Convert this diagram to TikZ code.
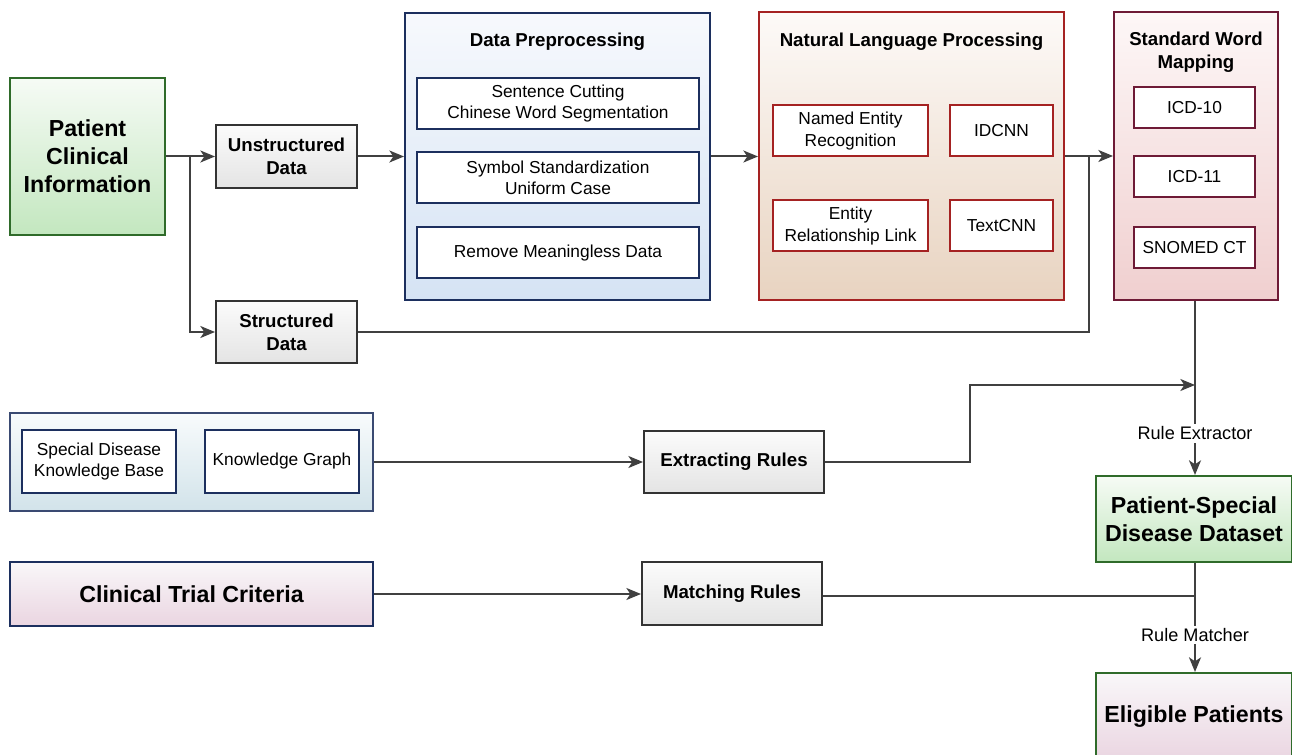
\documentclass[tikz,border=0pt]{standalone}
\usepackage{fontspec}
\setmainfont{Liberation Sans}
\usetikzlibrary{arrows.meta}
\definecolor{grnB}{HTML}{2F6B2A}
\definecolor{grnT}{HTML}{F6FBF5}
\definecolor{grnD}{HTML}{C3E7BF}
\definecolor{gryB}{HTML}{333333}
\definecolor{gryT}{HTML}{FBFBFB}
\definecolor{gryD}{HTML}{E4E4E4}
\definecolor{bluB}{HTML}{1C2F5E}
\definecolor{bluT}{HTML}{F7F9FD}
\definecolor{bluD}{HTML}{D5E3F4}
\definecolor{redB}{HTML}{A52222}
\definecolor{redT}{HTML}{FDFAF8}
\definecolor{redD}{HTML}{E8D3C0}
\definecolor{marB}{HTML}{6E1A36}
\definecolor{marT}{HTML}{FDF7F7}
\definecolor{marD}{HTML}{F0CFCF}
\definecolor{kbB}{HTML}{3A4A72}
\definecolor{kbT}{HTML}{F8FBFC}
\definecolor{kbD}{HTML}{D2E3EA}
\definecolor{pkT}{HTML}{F9F7F9}
\definecolor{pkD}{HTML}{EAD5E1}
\definecolor{lnC}{HTML}{404040}
\begin{document}
\begin{tikzpicture}[x=0.75pt,y=-0.75pt,
  sz/.style 2 args={minimum width=#1*0.75pt, minimum height=#2*0.75pt},
  base/.style={rectangle, inner sep=0pt, align=center, line width=1.5pt, text=black},
  bigf/.style={font=\bfseries\fontsize{17.4}{21}\selectfont},
  medf/.style={font=\bfseries\fontsize{14}{17}\selectfont},
  nrmf/.style={font=\fontsize{13}{16}\selectfont},
  grnbox/.style={base, draw=grnB, top color=grnT, bottom color=grnD},
  grybox/.style={base, draw=gryB, top color=gryT, bottom color=gryD, medf},
  inbox/.style={base, fill=white, nrmf},
  arr/.style={draw=lnC, line width=1.5pt, -{Stealth[length=11pt,width=9pt,inset=3pt]}},
  ln/.style={draw=lnC, line width=1.5pt},
  lbl/.style={fill=white, inner sep=2pt, font=\fontsize{13.6}{16}\selectfont}]
\path[use as bounding box] (0,0) rectangle (1292,755);

% left column
\node[grnbox, bigf, sz={155}{157}] (pci) at (87.5,156.5) {Patient\\Clinical\\Information};
\node[grybox, sz={141}{63}] (uns) at (286.5,156.5) {Unstructured\\Data};
\node[grybox, sz={141}{62}] (str) at (286.5,332) {Structured\\Data};

% data preprocessing
\node[base, draw=bluB, top color=bluT, bottom color=bluD, sz={305}{287}] (dp) at (557.5,156.5) {};
\node[medf] (dpt) at (557.5,42) {Data Preprocessing};
\node[inbox, draw=bluB, sz={282}{51}] (dp1) at (558,103.5) {Sentence Cutting\\Chinese Word Segmentation};
\node[inbox, draw=bluB, sz={282}{51}] (dp2) at (558,178) {Symbol Standardization\\Uniform Case};
\node[inbox, draw=bluB, sz={282}{51}] (dp3) at (558,253) {Remove Meaningless Data};

% NLP
\node[base, draw=redB, top color=redT, bottom color=redD, sz={305}{288}] (nlp) at (911.5,156) {};
\node[medf] (nlpt) at (911.5,42) {Natural Language Processing};
\node[inbox, draw=redB, sz={155}{51}] (ner) at (850.5,131) {Named Entity\\Recognition};
\node[inbox, draw=redB, sz={103}{51}] (idc) at (1001.5,131) {IDCNN};
\node[inbox, draw=redB, sz={155}{51}] (erl) at (850.5,226) {Entity\\Relationship Link};
\node[inbox, draw=redB, sz={103}{51}] (tcn) at (1001.5,226) {TextCNN};

% standard word mapping
\node[base, draw=marB, top color=marT, bottom color=marD, sz={164}{288}] (swm) at (1196,156) {};
\node[medf, align=center] (swmt) at (1196,52) {Standard Word\\Mapping};
\node[inbox, draw=marB, sz={121}{41}] (i10) at (1194.5,107.5) {ICD-10};
\node[inbox, draw=marB, sz={121}{41}] (i11) at (1194.5,177) {ICD-11};
\node[inbox, draw=marB, sz={121}{41}] (sno) at (1194.5,247.5) {SNOMED CT};

% knowledge base group
\node[base, draw=kbB, top color=kbT, bottom color=kbD, sz={363}{98}] (kbg) at (191.5,462) {};
\node[inbox, draw=bluB, sz={154}{63}] (sdkb) at (99,461.5) {Special Disease\\Knowledge Base};
\node[inbox, draw=bluB, sz={154}{63}] (kg) at (282,461.5) {Knowledge Graph};

\node[grybox, sz={180}{62}] (ext) at (734,462) {Extracting Rules};
\node[base, draw=bluB, top color=pkT, bottom color=pkD, bigf, sz={363}{64}] (ctc) at (191.5,594) {Clinical Trial Criteria};
\node[grybox, sz={180}{63}] (mat) at (732,593.5) {Matching Rules};

\node[grnbox, bigf, sz={196}{86}] (psd) at (1194,519) {Patient-Special\\Disease Dataset};
\node[base, draw=grnB, top color=pkT, bottom color=pkD, bigf, sz={196}{88}] (eli) at (1194,717) {Eligible Patients};

% connectors
\coordinate (j1) at (190,156.5);
\coordinate (j2) at (1089,156);
\coordinate (j3) at (1195,385);
\coordinate (j4) at (1195,596);
\coordinate (k1) at (970,462);
\draw[arr] (pci.east) -- (uns.west);
\draw[arr] (j1) |- (str.west);
\draw[arr] (uns.east) -- (uns.east -| dp.west);
\draw[arr] (dp.east |- 0,156.5) -- (nlp.west |- 0,156.5);
\draw[arr] (nlp.east) -- (swm.west);
\draw[ln] (str.east) -| (j2);
\draw[arr] (kbg.east) -- (kbg.east -| ext.west);
\draw[arr] (ext.east) -- (k1) |- (j3);
\draw[arr] (ctc.east) -- (ctc.east -| mat.west);
\draw[ln] (mat.east |- j4) -- (j4);
\draw[arr] (swm.south -| j3) -- node[lbl, pos=0.76] (rex) {Rule Extractor} (psd.north -| j3);
\draw[arr] (psd.south -| j4) -- node[lbl, pos=0.66] (rma) {Rule Matcher} (eli.north -| j4);
\end{tikzpicture}
\end{document}
